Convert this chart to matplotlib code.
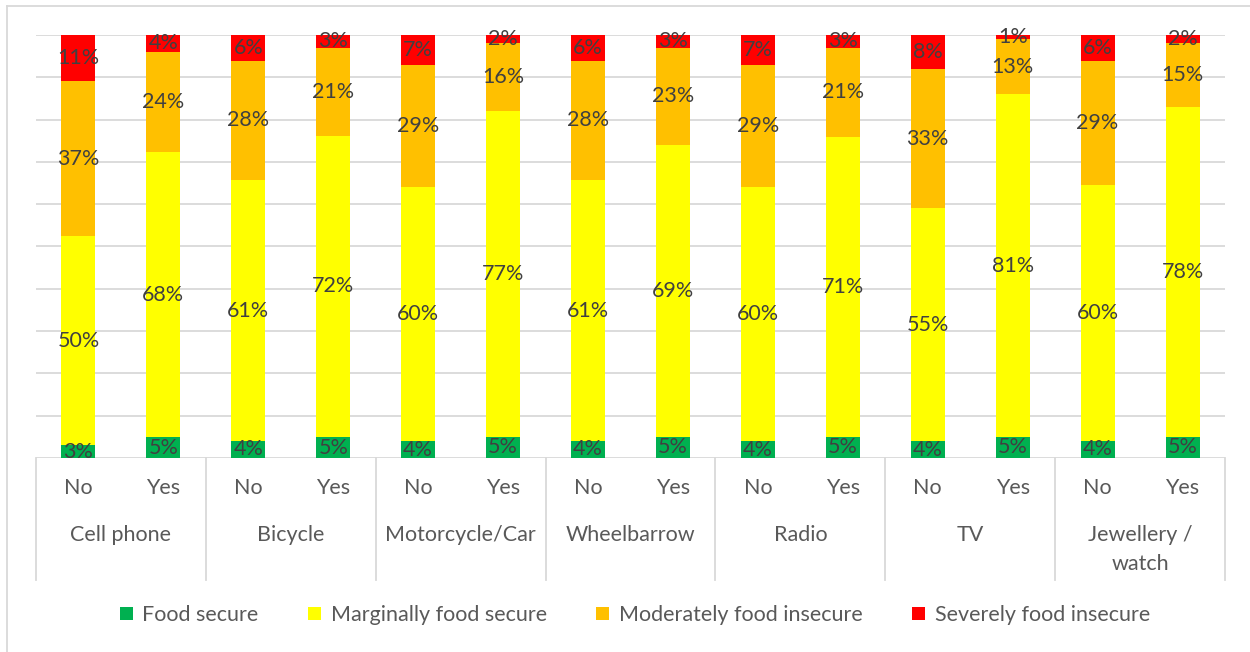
import matplotlib
matplotlib.use('Agg')
from matplotlib import pyplot as plt
from matplotlib.patches import Patch
import matplotlib.transforms as mtransforms
import numpy as np

plt.rcParams['font.family'] = ['Lato', 'DejaVu Sans']

items = ['Cell phone', 'Bicycle', 'Motorcycle/Car', 'Wheelbarrow', 'Radio', 'TV', 'Jewellery /\nwatch']
answers = ['No', 'Yes']
series = ['Food secure', 'Marginally food secure', 'Moderately food insecure', 'Severely food insecure']
colors = ['#00B050', '#FFFF00', '#FFC000', '#FF0000']

# one value per bar: (No, Yes) for each item, in order
food_secure = [3, 5, 4, 5, 4, 5, 4, 5, 4, 5, 4, 5, 4, 5]
marginal = [50, 68, 61, 72, 60, 77, 61, 69, 60, 71, 55, 81, 60, 78]
moderate = [37, 24, 28, 21, 29, 16, 28, 23, 29, 21, 33, 13, 29, 15]
severe = [11, 4, 6, 3, 7, 2, 6, 3, 7, 3, 8, 1, 6, 2]

vals = np.array([food_secure, marginal, moderate, severe], dtype=float)
shares = vals / vals.sum(axis=0) * 100  # stacked to 100%

fig = plt.figure(figsize=(12.5, 6.52), dpi=100)
ax = fig.add_axes([36 / 1250, 1 - 458 / 652, (1225 - 36) / 1250, (458 - 35) / 652])

x = np.arange(len(food_secure)) + 0.5
bottom = np.zeros(len(x))
for k in range(4):
    ax.bar(x, shares[k], width=0.4, bottom=bottom, color=colors[k], zorder=2)
    for xi, b, h, v in zip(x, bottom, shares[k], vals[k]):
        ax.text(xi, b + h / 2, f'{int(v)}%', ha='center', va='center',
                fontsize=15.5, color='#404040', zorder=3)
    bottom += shares[k]

ax.set_xlim(0, len(x))
ax.set_ylim(0, 100)
ax.set_yticks(np.arange(0, 101, 10))
ax.yaxis.grid(True, color='#D9D9D9', linewidth=1.3, zorder=0)
ax.set_yticklabels([])
ax.tick_params(left=False, bottom=False, labelbottom=False)
for s in ax.spines.values():
    s.set_visible(False)

trans = mtransforms.blended_transform_factory(ax.transData, ax.transAxes)
for i, xi in enumerate(x):
    ax.text(xi, -0.071, answers[i % 2], transform=trans, ha='center', va='center',
            fontsize=15.5, color='#595959')
for g, name in enumerate(items):
    ax.text(2 * g + 1, -0.182 if '\n' not in name else -0.216, name, transform=trans,
            ha='center', va='center', fontsize=15.5, color='#595959', linespacing=1.55)
for g in range(len(items) + 1):
    ax.plot([2 * g, 2 * g], [0, -0.288], transform=trans, color='#D9D9D9',
            linewidth=1.3, clip_on=False)

handles = [Patch(facecolor=c, label=s) for c, s in zip(colors, series)]
leg = fig.legend(handles=handles, loc='center', bbox_to_anchor=(0.508, 1 - 615 / 652),
                 ncol=4, frameon=False, fontsize=15.5, handlelength=0.6, handleheight=0.6,
                 handletextpad=0.45, columnspacing=2.3)
for t in leg.get_texts():
    t.set_color('#595959')

# outer chart border (top and left edges visible)
fig.add_artist(plt.Line2D([7 / 1250, 7 / 1250], [0, 1 - 6 / 652], color='#D9D9D9', linewidth=1.3))
fig.add_artist(plt.Line2D([7 / 1250, 1], [1 - 6 / 652, 1 - 6 / 652], color='#D9D9D9', linewidth=1.3))

fig.savefig('out.png', dpi=100)
